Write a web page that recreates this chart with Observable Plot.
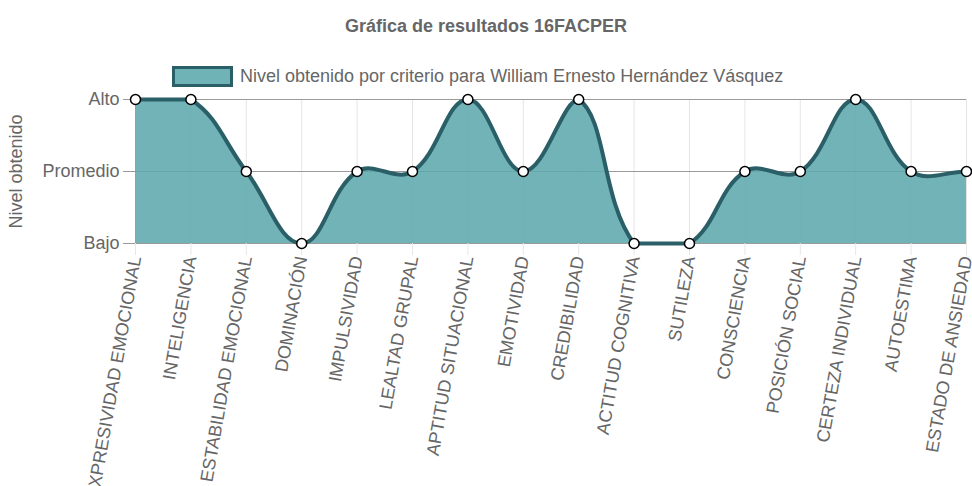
<!DOCTYPE html>
<html>
<head>
<meta charset="utf-8">
<script src="https://cdn.jsdelivr.net/npm/d3@7"></script>
<script src="https://cdn.jsdelivr.net/npm/@observablehq/plot@0.6"></script>
<style>
  html, body { margin: 0; padding: 0; background: #fff; }
  body { width: 972px; height: 486px; overflow: hidden; position: relative; font-family: "Liberation Sans", Arial, Helvetica, sans-serif; color: #666; }
  #title { position: absolute; left: 0; width: 972px; top: 15px; text-align: center; font-size: 18px; font-weight: bold; color: #666; line-height: 22px; }
  #legend { position: absolute; left: 172px; top: 64px; display: flex; align-items: center; height: 24px; }
  #legend .swatch { width: 55px; height: 15px; background: #70b3b7; border: 3px solid #2a5f68; margin-right: 7px; }
  #legend .label { font-size: 18px; color: #666; white-space: nowrap; }
  #chart { position: absolute; left: 0; top: 90px; }
</style>
</head>
<body>
<div id="title">Gráfica de resultados 16FACPER</div>
<div id="legend"><div class="swatch"></div><div class="label">Nivel obtenido por criterio para William Ernesto Hernández Vásquez</div></div>
<div id="chart"></div>
<script>
// ---- data ----
const categories = [
  "EXPRESIVIDAD EMOCIONAL", "INTELIGENCIA", "ESTABILIDAD EMOCIONAL", "DOMINACIÓN",
  "IMPULSIVIDAD", "LEALTAD GRUPAL", "APTITUD SITUACIONAL", "EMOTIVIDAD",
  "CREDIBILIDAD", "ACTITUD COGNITIVA", "SUTILEZA", "CONSCIENCIA",
  "POSICIÓN SOCIAL", "CERTEZA INDIVIDUAL", "AUTOESTIMA", "ESTADO DE ANSIEDAD"
];
const levels = ["Bajo", "Promedio", "Alto"];
const results = [
  "Alto", "Alto", "Promedio", "Bajo",
  "Promedio", "Promedio", "Alto", "Promedio",
  "Alto", "Bajo", "Bajo", "Promedio",
  "Promedio", "Alto", "Promedio", "Promedio"
];
const seriesName = "Nivel obtenido por criterio para William Ernesto Hernández Vásquez";

const data = categories.map((c, i) => ({cat: c, v: levels.indexOf(results[i]) + 1}));

// ---- layout ----
const W = 972, H = 396, mL = 135, mR = 6, mT = 9, mB = 243;
const bounds = {left: mL, right: W - mR, top: mT, bottom: H - mB};

// Chart.js-style spline (tension 0.4) with control points capped to chart area
function chartJsCurve(b, T = 0.4) {
  const clamp = (v, lo, hi) => Math.max(lo, Math.min(hi, v));
  return function(context) {
    let pts = [], line;
    return {
      areaStart() { line = 0; },
      areaEnd() { line = NaN; },
      lineStart() { pts = []; },
      point(x, y) { pts.push([+x, +y]); },
      lineEnd() {
        const n = pts.length;
        if (n) {
          if (line) context.lineTo(pts[0][0], pts[0][1]); else context.moveTo(pts[0][0], pts[0][1]);
          if (n === 2) context.lineTo(pts[1][0], pts[1][1]);
          else if (n > 2) {
            const cps = pts.map((p, i) => {
              const pr = pts[Math.max(0, i - 1)], nx = pts[Math.min(n - 1, i + 1)];
              const d01 = Math.hypot(p[0] - pr[0], p[1] - pr[1]);
              const d12 = Math.hypot(nx[0] - p[0], nx[1] - p[1]);
              let s01 = d01 / (d01 + d12), s12 = d12 / (d01 + d12);
              if (!isFinite(s01)) s01 = 0;
              if (!isFinite(s12)) s12 = 0;
              const fa = T * s01, fb = T * s12;
              const cap = q => [clamp(q[0], b.left, b.right), clamp(q[1], b.top, b.bottom)];
              return {
                prev: cap([p[0] - fa * (nx[0] - pr[0]), p[1] - fa * (nx[1] - pr[1])]),
                next: cap([p[0] + fb * (nx[0] - pr[0]), p[1] + fb * (nx[1] - pr[1])])
              };
            });
            for (let i = 1; i < n; i++) {
              context.bezierCurveTo(cps[i - 1].next[0], cps[i - 1].next[1], cps[i].prev[0], cps[i].prev[1], pts[i][0], pts[i][1]);
            }
          }
        }
        if (line || (line !== 0 && n === 1)) context.closePath();
        line = 1 - line;
      }
    };
  };
}
const curve = chartJsCurve(bounds);

const chart = Plot.plot({
  width: W, height: H,
  marginLeft: mL, marginRight: mR, marginTop: mT, marginBottom: mB,
  style: {fontFamily: "'Liberation Sans', Arial, Helvetica, sans-serif", fontSize: "18px", color: "#666", background: "transparent", overflow: "visible"},
  x: {type: "point", domain: categories, padding: 0, round: false, label: null, axis: null},
  y: {domain: [1, 3], label: null, axis: null},
  marks: [
    Plot.ruleX(categories, {x: d => d, y1: 1, y2: 3, stroke: "#000", strokeOpacity: 0.1}),
    Plot.ruleY([1, 2, 3], {y: d => d, stroke: "#9a9a9a", strokeWidth: 1}),
    Plot.axisX({tickSize: 12, tickPadding: 1, tickRotate: -80, stroke: "#e6e6e6", fill: "#666", fontSize: 18, label: null}),
    Plot.axisY({ticks: [1, 2, 3], tickFormat: d => levels[d - 1], tickSize: 12, tickPadding: 4, stroke: "#9a9a9a", fill: "#666", fontSize: 18, label: null}),
    Plot.text(["Nivel obtenido"], {text: d => d, frameAnchor: "left", textAnchor: "middle", dx: -119, rotate: -90, fill: "#666", fontSize: 18}),
    Plot.areaY(data, {x: "cat", y1: 1, y2: "v", fill: "#5ea9ae", fillOpacity: 0.88, curve}),
    Plot.lineY(data, {x: "cat", y: "v", stroke: "#2a5f68", strokeWidth: 4, curve}),
    Plot.dot(data, {x: "cat", y: "v", r: 5, fill: "white", stroke: "#000", strokeWidth: 1.5})
  ]
});
document.getElementById("chart").appendChild(chart);
</script>
</body>
</html>
